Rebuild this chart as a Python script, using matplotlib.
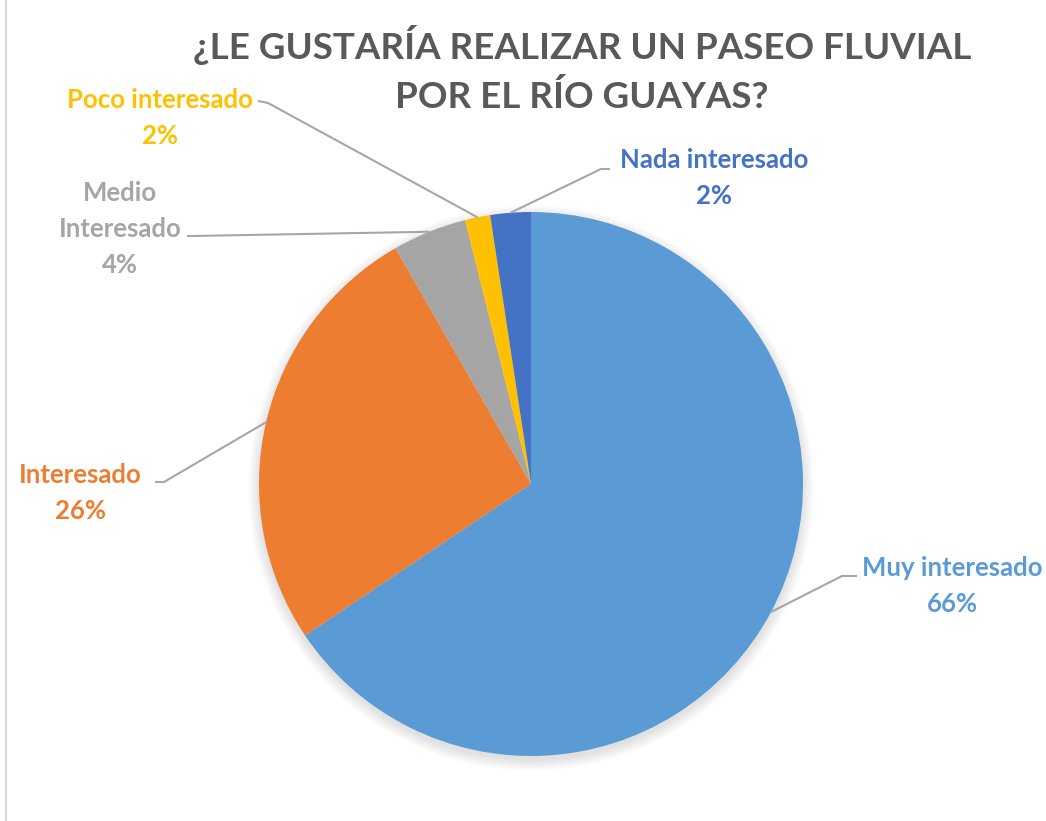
import matplotlib
matplotlib.use("Agg")
import matplotlib.pyplot as plt
import numpy as np
from matplotlib.patches import Circle

categories = ["Muy interesado", "Interesado", "Medio\nInteresado", "Poco interesado", "Nada interesado"]
values = [65.6, 26.1, 4.4, 1.5, 2.4]
pct_labels = ["66%", "26%", "4%", "2%", "2%"]
colors = ["#5B9BD5", "#ED7D31", "#A5A5A5", "#FFC000", "#4472C4"]
title_lines = ["¿LE GUSTARÍA REALIZAR UN PASEO FLUVIAL", "POR EL RÍO GUAYAS?"]

W, H = 1046, 821
fig = plt.figure(figsize=(W / 100, H / 100), dpi=100)
ax = fig.add_axes([0, 0, 1, 1])
ax.set_xlim(0, W)
ax.set_ylim(0, H)
ax.set_aspect("equal")
ax.axis("off")

def Y(y):
    return H - y

cx, cy, R = 531, 484, 272

# soft shadow
for i in range(10):
    ax.add_patch(Circle((cx, Y(cy + 4)), R + i * 1.2, color="black", alpha=0.012, lw=0, zorder=1))

wedges, _ = ax.pie(values, colors=colors, startangle=90, counterclock=False,
                   center=(cx, Y(cy)), radius=R, frame=True,
                   wedgeprops=dict(linewidth=0, zorder=2))
ax.set_xlim(0, W)
ax.set_ylim(0, H)
ax.axis("off")

font = "Lato"
label_pos = [(952, 568), (80, 475), (120, 193), (160, 100), (714, 160)]
anchors = [((857, 576), (842, 576)),
           ((155, 482), (164, 482)),
           ((187, 236), (192, 236)),
           ((258, 101), (268, 103)),
           ((610, 169), (601, 169))]
line_h = 36

for w, cat, pct, col, (tx, ty), (a, e) in zip(wedges, categories, pct_labels, colors, label_pos, anchors):
    lines = cat.split("\n") + [pct]
    for k, ln in enumerate(lines):
        ax.text(tx, Y(ty + k * line_h), ln, color=col, fontsize=18.5, fontweight="bold",
                family=font, ha="center", va="center", zorder=5)
    ang = np.deg2rad((w.theta1 + w.theta2) / 2)
    px = cx + R * np.cos(ang)
    py = Y(cy) + R * np.sin(ang)
    ax.plot([a[0], e[0], px], [Y(a[1]), Y(e[1]), py], color="#A6A6A6", lw=1.5, zorder=3,
            solid_capstyle="butt")

for k, t in enumerate(title_lines):
    ax.text(582, Y(45 + k * 52), t, ha="center", va="center", fontsize=26.5, fontweight="bold",
            family=font, color="#595959", zorder=5)

# chart border on left
ax.plot([6, 6], [0, H], color="#D9D9D9", lw=1.5, zorder=0)

fig.savefig("out.png", dpi=100)
